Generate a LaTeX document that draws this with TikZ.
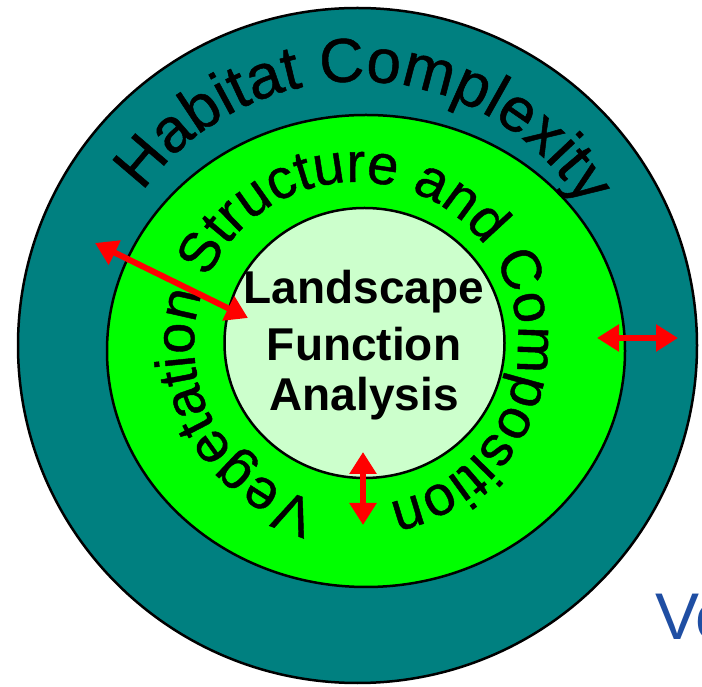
\documentclass[tikz,border=0pt]{standalone}
\usepackage{fontspec}
\setmainfont{Liberation Sans}
\newfontfamily\ringfont[FakeBold=0.8]{Liberation Sans}
\usetikzlibrary{decorations.text,arrows.meta}
\definecolor{tealc}{RGB}{0,128,128}
\definecolor{greenc}{RGB}{0,255,0}
\definecolor{palec}{RGB}{204,255,204}
\definecolor{vblue}{RGB}{31,78,163}
\tikzset{
  ring/.style={draw=black, line width=2.5pt},
  redarrow/.style={draw=red, line width=6pt,
    {Triangle[length=22pt,width=26pt,fill=red]}-{Triangle[length=22pt,width=26pt,fill=red]}},
  lfa/.style={anchor=base, inner sep=0pt, font=\fontsize{46}{54}\selectfont\bfseries}
}
\begin{document}
\begin{tikzpicture}[x=1pt,y=1pt]
\useasboundingbox (0,0) rectangle (702,686);
\fill[white] (0,0) rectangle (702,686);
% rings
\draw[ring, fill=tealc] (357.5,340.5) ellipse [x radius=339.5pt, y radius=337.5pt];
\draw[ring, fill=greenc] (366,335) ellipse [x radius=259pt, y radius=236pt];
\draw[ring, fill=palec] (364.5,343) ellipse [x radius=140pt, y radius=135pt];
% curved texts
\path[decorate, decoration={text along path, text align=center,
  text={|\ringfont\fontsize{62}{62}\selectfont|Habitat Complexity}}]
  (357.5,340.5) ++(178:264) arc[start angle=178, end angle=-2, radius=264pt];
\path[decorate, decoration={text along path, text align=center,
  text={|\ringfont\fontsize{56}{56}\selectfont|Vegetation Structure and Composition}}]
  (356,342) ++(269:162) arc[start angle=269, end angle=-91, radius=162pt];
% centre text
\node[lfa] (lfa1) at (364,382) {Landscape};
\node[lfa] (lfa2) at (364,325) {Function};
\node[lfa] (lfa3) at (364,275) {Analysis};
% arrows
\coordinate (a1s) at (95,443);
\coordinate (a1e) at (248,368);
\coordinate (a2s) at (597,348);
\coordinate (a2e) at (678,348);
\coordinate (a3s) at (363,234);
\coordinate (a3e) at (363,161);
\draw[redarrow] (a1s) -- (a1e);
\draw[redarrow] (a2s) -- (a2e);
\draw[redarrow] (a3s) -- (a3e);
% partial label
\node[anchor=base west, inner sep=0pt, text=vblue, font=\fontsize{66}{66}\selectfont] (ve) at (655,46) {Ve};
\end{tikzpicture}
\end{document}
